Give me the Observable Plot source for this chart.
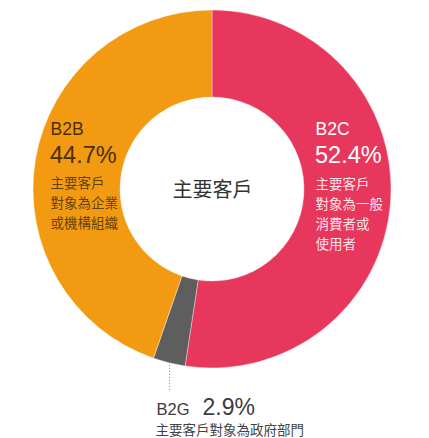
<!DOCTYPE html>
<html><head><meta charset="utf-8">
<script src="https://cdn.jsdelivr.net/npm/d3@7"></script>
<script src="https://cdn.jsdelivr.net/npm/@observablehq/plot@0.6"></script>
<style>html,body{margin:0;padding:0;background:#fff}svg{display:block}</style>
</head><body><div id="chart"></div>
<script>
// ---- data ----
const categories = ["B2C", "B2G", "B2B"];
const shares = [52.4, 2.9, 44.7];
const shareLabels = ["52.4%", "2.9%", "44.7%"];
const descriptions = [
  "主要客戶\n對象為一般\n消費者或\n使用者",
  "主要客戶對象為政府部門",
  "主要客戶\n對象為企業\n或機構組織"
];
const centerTitle = "主要客戶";

// ---- styles / layout ----
const sliceColors = ["#E8375D", "#5E5E5E", "#F29B12"];
const color = d3.scaleOrdinal(categories, sliceColors);
const OUTER = 179, INNER = 92;
const FONT = "'Liberation Sans','Noto Sans CJK TC',sans-serif";

const rows = categories.map((c, i) => ({category: c, share: shares[i], label: shareLabels[i], desc: descriptions[i]}));
const arcs = d3.pie().sort(null).value(d => d.share)(rows);
const arcOf = c => arcs.find(a => a.data.category === c);

const layout = {
  B2C: {nameX: 103, nameY: -54.5, valueX: 102.5, valueY: -26.5, descX: 103, descY: 59, nameSize: 17.5, valueSize: 23.5, descSize: 13.5,
        nameFill: "#ffffff", valueFill: "#ffffff", descFill: "rgba(255,255,255,0.88)"},
  B2B: {nameX: -162, nameY: -54.5, valueX: -162.5, valueY: -26.5, descX: -162, descY: 38.5, nameSize: 17.5, valueSize: 23.5, descSize: 13.5,
        nameFill: "#4a2f05", valueFill: "#4a2f05", descFill: "rgba(74,47,5,0.85)"},
  B2G: {nameX: -56, nameY: 225, valueX: -10, valueY: 225, descX: -57, descY: 245, nameSize: 16.5, valueSize: 23, descSize: 13.5,
        nameFill: "#3c3c3c", valueFill: "#3c3c3c", descFill: "#444444"}
};

function donut(index, scales) {
  const cx = scales.x(0), cy = scales.y(0);
  const r1 = scales.x(OUTER) - cx, r0 = scales.x(INNER) - cx;
  const arc = d3.arc().innerRadius(r0).outerRadius(r1);
  const g = d3.create("svg:g").attr("transform", `translate(${cx},${cy})`);
  g.selectAll("path").data(arcs).join("path")
    .attr("d", arc)
    .attr("fill", d => color(d.data.category))
    .attr("stroke", "#ffffff")
    .attr("stroke-opacity", 0.6)
    .attr("stroke-width", 0.6);
  return g.node();
}

const textMarks = [];
for (const r of rows) {
  const L = layout[r.category];
  textMarks.push(
    Plot.text([r], {x: () => L.nameX, y: () => L.nameY, text: d => d.category, textAnchor: "start", lineAnchor: "bottom",
      fontSize: L.nameSize, fill: L.nameFill, fontFamily: FONT}),
    Plot.text([r], {x: () => L.valueX, y: () => L.valueY, text: d => d.label, textAnchor: "start", lineAnchor: "bottom",
      fontSize: L.valueSize, fill: L.valueFill, fontFamily: FONT}),
    Plot.text([r], {x: () => L.descX, y: () => L.descY, text: d => d.desc, textAnchor: "start", lineAnchor: "bottom",
      lineHeight: 20 / L.descSize, fontSize: L.descSize, fill: L.descFill, fontFamily: FONT})
  );
}

// leader line from the B2G slice to its label
const g = arcOf("B2G");
const gMid = (g.startAngle + g.endAngle) / 2;

const chart = Plot.plot({
  width: 429,
  height: 438,
  margin: 0,
  style: {background: "#ffffff"},
  x: {domain: [-212, 217], range: [0, 429], axis: null},
  y: {domain: [-189, 249], range: [0, 438], axis: null},
  marks: [
    donut,
    Plot.ruleX([g], {x: d => OUTER * Math.sin(gMid), y1: d => -OUTER * Math.cos(gMid) + 2, y2: 203,
      stroke: "#777", strokeWidth: 1, strokeDasharray: "1,2"}),
    Plot.text([centerTitle], {x: () => 0, y: () => 1, text: d => d, fontSize: 20, fill: "#333333", fontFamily: FONT}),
    ...textMarks
  ]
});
document.getElementById("chart").append(chart);
</script>
</body></html>
